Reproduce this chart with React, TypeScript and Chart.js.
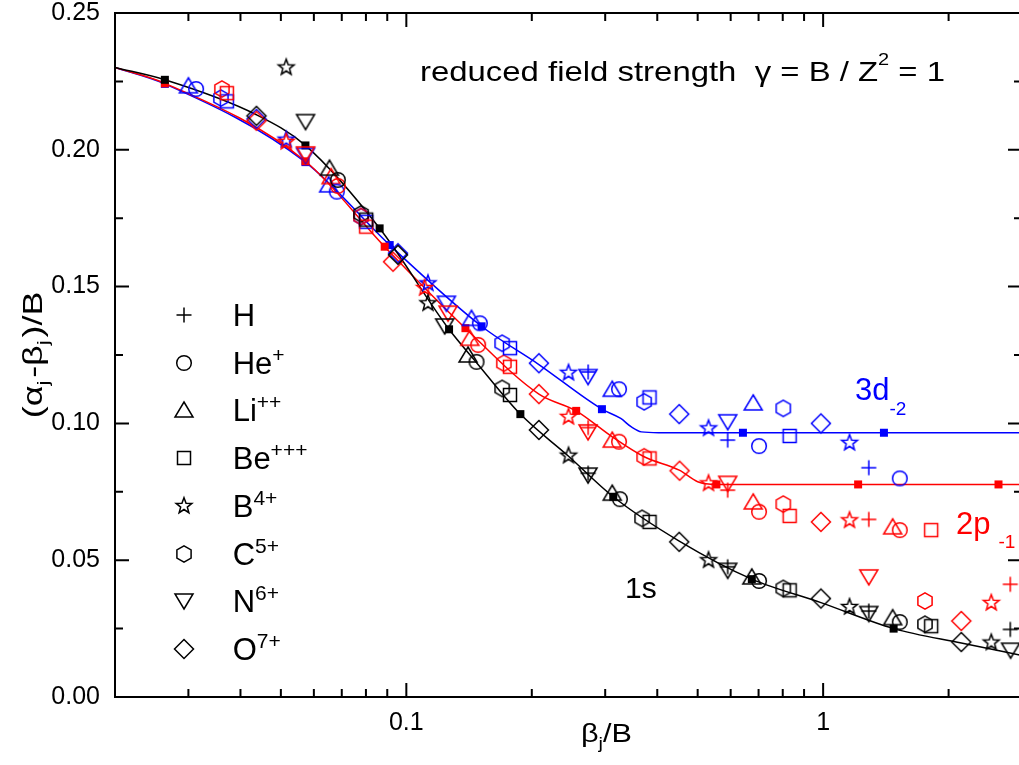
import React, { useEffect, useRef } from 'react';
import { Chart, registerables } from 'chart.js';
Chart.register(...registerables);

type Pt = [number, number];

// ---- axis ticks ----
const Y_MAJOR = [0, 0.05, 0.1, 0.15, 0.2, 0.25];
const Y_MINOR = [0.025, 0.075, 0.125, 0.175, 0.225];
const X_MAJOR = [0.1, 1];
const X_MINOR = [0.03, 0.04, 0.05, 0.06, 0.07, 0.08, 0.09, 0.2, 0.3, 0.4, 0.5, 0.6, 0.7, 0.8, 0.9, 2];

// ---- data: [beta_j/B, (alpha_j-beta_j)/B]; K = 1s (black), R = 2p-1 (red), B = 3d-2 (blue) ----
const H_K: Pt[] = [[0.273, 0.0818], [0.590, 0.0476], [1.287, 0.0314], [2.812, 0.0247]];
const H_R: Pt[] = [[0.273, 0.0985], [0.590, 0.0756], [1.287, 0.0649], [2.812, 0.0412]];
const H_B: Pt[] = [[0.273, 0.1188], [0.590, 0.0939], [1.287, 0.0838]];

const HE_K: Pt[] = [[0.0685, 0.189], [0.1474, 0.1225], [0.3254, 0.0723], [0.7017, 0.0424], [1.527, 0.0274]];
const HE_R: Pt[] = [[0.0685, 0.1868], [0.1487, 0.1287], [0.3238, 0.0933], [0.7017, 0.0677], [1.527, 0.061]];
const HE_B: Pt[] = [[0.0313, 0.2222], [0.0681, 0.1847], [0.1501, 0.1366], [0.3238, 0.1125], [0.7017, 0.0917], [1.527, 0.0799]];

const LI_K: Pt[] = [[0.0654, 0.1933], [0.1406, 0.125], [0.3119, 0.0745], [0.6743, 0.0439], [1.468, 0.029]];
const LI_R: Pt[] = [[0.066, 0.1902], [0.142, 0.1311], [0.3119, 0.0939], [0.6796, 0.0713], [1.468, 0.0622]];
const LI_B: Pt[] = [[0.03, 0.2234], [0.0651, 0.1872], [0.1433, 0.1384], [0.3119, 0.1125], [0.6796, 0.1075]];

const BE_K: Pt[] = [[0.0801, 0.1745], [0.1773, 0.1104], [0.3832, 0.064], [0.8311, 0.039], [1.816, 0.0259]];
const BE_R: Pt[] = [[0.0371, 0.2207], [0.0801, 0.1719], [0.1773, 0.1207], [0.3832, 0.0872], [0.8311, 0.0662], [1.816, 0.061]];
const BE_B: Pt[] = [[0.0371, 0.2177], [0.0801, 0.1737], [0.1773, 0.1275], [0.3832, 0.1095], [0.8311, 0.0954]];

const B_K: Pt[] = [[0.0515, 0.2301], [0.1127, 0.1439], [0.245, 0.0882], [0.5309, 0.05], [1.157, 0.0329], [2.532, 0.0199]];
const B_R: Pt[] = [[0.0515, 0.2029], [0.1106, 0.1495], [0.245, 0.1024], [0.5309, 0.0781], [1.157, 0.0646], [2.532, 0.0344]];
const B_B: Pt[] = [[0.0515, 0.2037], [0.1127, 0.1512], [0.245, 0.1185], [0.5309, 0.0982], [1.157, 0.0929]];

const C_K: Pt[] = [[0.0779, 0.1766], [0.1698, 0.1128], [0.3678, 0.0653], [0.8023, 0.0397], [1.755, 0.0266]];
const C_R: Pt[] = [[0.0361, 0.2222], [0.0779, 0.1756], [0.1714, 0.122], [0.3721, 0.0878], [0.8023, 0.0705], [1.755, 0.0351]];
const C_B: Pt[] = [[0.0359, 0.2189], [0.0779, 0.1756], [0.1698, 0.1293], [0.3721, 0.1079], [0.8023, 0.1055]];

const N_K: Pt[] = [[0.0573, 0.2103], [0.1236, 0.1356], [0.2729, 0.0811], [0.5904, 0.0463], [1.287, 0.0305], [2.817, 0.0171]];
const N_R: Pt[] = [[0.0573, 0.1985], [0.1259, 0.1403], [0.2729, 0.0969], [0.5904, 0.0781], [1.287, 0.0439]];
const N_B: Pt[] = [[0.0573, 0.198], [0.1248, 0.1439], [0.2729, 0.1171], [0.5904, 0.1006]];

const O_K: Pt[] = [[0.0437, 0.2124], [0.0955, 0.1616], [0.208, 0.0976], [0.4516, 0.0567], [0.9879, 0.036], [2.145, 0.0201]];
const O_R: Pt[] = [[0.0437, 0.2106], [0.0929, 0.1591], [0.208, 0.1107], [0.4525, 0.0827], [0.9879, 0.064], [2.145, 0.0278]];
const O_B: Pt[] = [[0.0437, 0.2113], [0.0955, 0.1622], [0.208, 0.122], [0.4516, 0.1034], [0.9879, 0.1]];

// filled squares on the fitted curves
const NODE_K: Pt[] = [[0.02634, 0.2256], [0.05726, 0.2016], [0.08627, 0.1713], [0.1266, 0.1344], [0.1877, 0.1034], [0.3136, 0.0732], [0.6743, 0.0431], [1.476, 0.025]];
const NODE_R: Pt[] = [[0.02634, 0.2243], [0.05726, 0.1958], [0.0887, 0.1646], [0.1386, 0.1348], [0.2555, 0.1046], [0.5546, 0.0777], [1.213, 0.0777], [2.634, 0.0777]];
const NODE_B: Pt[] = [[0.02634, 0.2241], [0.05726, 0.1955], [0.0912, 0.1652], [0.1515, 0.1355], [0.2946, 0.1052], [0.6419, 0.0966], [1.399, 0.0966]];

// fitted curves
const CURVE_K: Pt[] = [[0.02, 0.2301], [0.02634, 0.2256], [0.0437, 0.2128], [0.05726, 0.2016], [0.08627, 0.1713], [0.1266, 0.1344], [0.1474, 0.1222], [0.1877, 0.1034], [0.245, 0.088], [0.3136, 0.0732], [0.4516, 0.057], [0.6743, 0.0431], [0.9879, 0.0345], [1.476, 0.025], [2.145, 0.0197], [3.0, 0.0152]];
const CURVE_R: Pt[] = [[0.02, 0.2301], [0.02634, 0.2243], [0.05726, 0.1958], [0.0887, 0.1646], [0.1386, 0.1348], [0.208, 0.1107], [0.2555, 0.1046], [0.3119, 0.0951], [0.3721, 0.0878], [0.4516, 0.0829], [0.5, 0.0787], [0.5546, 0.0777], [1.213, 0.0777], [2.634, 0.0777], [3.0, 0.0777]];
const CURVE_B: Pt[] = [[0.02, 0.2301], [0.02634, 0.2241], [0.05726, 0.1955], [0.0912, 0.1652], [0.1515, 0.1355], [0.208, 0.1215], [0.2946, 0.1052], [0.3269, 0.1018], [0.346, 0.0988], [0.3664, 0.0969], [0.403, 0.0966], [0.6419, 0.0966], [1.399, 0.0966], [3.0, 0.0966]];

const SPECIES = [
  { name: 'H', sup: '', shape: 'plus', k: H_K, r: H_R, b: H_B },
  { name: 'He', sup: '+', shape: 'circle', k: HE_K, r: HE_R, b: HE_B },
  { name: 'Li', sup: '++', shape: 'tri', k: LI_K, r: LI_R, b: LI_B },
  { name: 'Be', sup: '+++', shape: 'square', k: BE_K, r: BE_R, b: BE_B },
  { name: 'B', sup: '4+', shape: 'star', k: B_K, r: B_R, b: B_B },
  { name: 'C', sup: '5+', shape: 'hex', k: C_K, r: C_R, b: C_B },
  { name: 'N', sup: '6+', shape: 'itri', k: N_K, r: N_R, b: N_B },
  { name: 'O', sup: '7+', shape: 'diamond', k: O_K, r: O_R, b: O_B },
];

const FONT = "'Liberation Sans', Arial, Helvetica, sans-serif";
const COLORS: Record<string, string> = { k: '#000000', r: '#ff0000', b: '#0000ff' };

function makeMarker(shape: string, color: string): HTMLCanvasElement {
  const c = document.createElement('canvas');
  c.width = 26;
  c.height = 26;
  const g = c.getContext('2d') as CanvasRenderingContext2D;
  g.translate(13, 13);
  g.strokeStyle = color;
  g.fillStyle = color;
  g.lineWidth = 1.5;
  g.beginPath();
  if (shape === 'plus') {
    g.moveTo(-7.5, 0); g.lineTo(7.5, 0); g.moveTo(0, -7.5); g.lineTo(0, 7.5); g.stroke();
  } else if (shape === 'circle') {
    g.arc(0, 0, 7.3, 0, Math.PI * 2); g.stroke();
  } else if (shape === 'tri') {
    g.moveTo(0, -8); g.lineTo(9, 7); g.lineTo(-9, 7); g.closePath(); g.stroke();
  } else if (shape === 'itri') {
    g.moveTo(0, 8); g.lineTo(9, -7); g.lineTo(-9, -7); g.closePath(); g.stroke();
  } else if (shape === 'square') {
    g.rect(-6.5, -6.5, 13, 13); g.stroke();
  } else if (shape === 'star') {
    for (let i = 0; i < 10; i++) {
      const rr = i % 2 ? 3.5 : 8.3;
      const a = -Math.PI / 2 + (i * Math.PI) / 5;
      const px = rr * Math.cos(a), py = rr * Math.sin(a);
      if (i === 0) g.moveTo(px, py); else g.lineTo(px, py);
    }
    g.closePath(); g.stroke();
  } else if (shape === 'hex') {
    for (let i = 0; i < 6; i++) {
      const a = -Math.PI / 2 + (i * Math.PI) / 3;
      const px = 8.2 * Math.cos(a), py = 8.2 * Math.sin(a);
      if (i === 0) g.moveTo(px, py); else g.lineTo(px, py);
    }
    g.closePath(); g.stroke();
  } else if (shape === 'diamond') {
    g.moveTo(0, -9.5); g.lineTo(9.5, 0); g.lineTo(0, 9.5); g.lineTo(-9.5, 0); g.closePath(); g.stroke();
  } else if (shape === 'fsq') {
    g.fillRect(-4, -4, 8, 8);
  }
  return c;
}

type Seg = { t: string; size: number; dy?: number; pad?: number };

function drawRich(ctx: CanvasRenderingContext2D, segs: Seg[], x: number, y: number, color: string, opts: { fit?: number; rot?: number } = {}) {
  ctx.save();
  ctx.fillStyle = color;
  ctx.textBaseline = 'alphabetic';
  ctx.textAlign = 'left';
  let total = 0;
  const ws = segs.map((s) => {
    ctx.font = `${s.size}px ${FONT}`;
    const w = ctx.measureText(s.t).width + (s.pad || 0);
    total += w;
    return w;
  });
  const sx = opts.fit ? opts.fit / total : 1;
  ctx.translate(x, y);
  if (opts.rot) ctx.rotate(opts.rot);
  ctx.scale(sx, 1);
  let cx = 0;
  segs.forEach((s, i) => {
    ctx.font = `${s.size}px ${FONT}`;
    ctx.fillText(s.t, cx, s.dy || 0);
    cx += ws[i];
  });
  ctx.restore();
}

export default function App() {
  const ref = useRef<HTMLCanvasElement>(null);

  useEffect(() => {
    const canvas = ref.current;
    if (!canvas) return;
    const shapes = ['plus', 'circle', 'tri', 'itri', 'square', 'star', 'hex', 'diamond', 'fsq'];
    const markers: Record<string, Record<string, HTMLCanvasElement>> = {};
    shapes.forEach((s) => {
      markers[s] = {};
      Object.keys(COLORS).forEach((c) => (markers[s][c] = makeMarker(s, COLORS[c])));
    });

    const toXY = (arr: Pt[]) => arr.map(([x, y]) => ({ x, y }));
    const datasets: any[] = [];
    SPECIES.forEach((sp: any) => {
      ['k', 'r', 'b'].forEach((c) => {
        datasets.push({
          label: sp.name + '-' + c,
          data: toXY(sp[c]),
          pointStyle: markers[sp.shape][c],
          pointRadius: 6,
          showLine: false,
          order: 1,
        });
      });
    });
    const nodes: [Pt[], string][] = [[NODE_K, 'k'], [NODE_R, 'r'], [NODE_B, 'b']];
    nodes.forEach(([arr, c]) => {
      datasets.push({ label: 'node-' + c, data: toXY(arr), pointStyle: markers.fsq[c], pointRadius: 5, showLine: false, order: 2 });
    });
    const curves: [Pt[], string][] = [[CURVE_K, 'k'], [CURVE_R, 'r'], [CURVE_B, 'b']];
    curves.forEach(([arr, c]) => {
      datasets.push({
        label: 'curve-' + c,
        data: toXY(arr),
        showLine: true,
        pointRadius: 0,
        borderColor: COLORS[c],
        borderWidth: 1.5,
        cubicInterpolationMode: 'monotone',
        fill: false,
        order: 3,
      });
    });

    const decor = {
      id: 'decor',
      afterDraw(chart: any) {
        const { ctx, chartArea: a, scales } = chart;
        const xs = scales.x, ys = scales.y;
        ctx.save();
        ctx.strokeStyle = '#000';
        ctx.lineWidth = 2;
        ctx.strokeRect(a.left, a.top, a.right - a.left, a.bottom - a.top);
        ctx.beginPath();
        const yt = (vals: number[], len: number) => vals.forEach((v) => {
          const p = ys.getPixelForValue(v);
          ctx.moveTo(a.left, p); ctx.lineTo(a.left + len, p);
          ctx.moveTo(a.right, p); ctx.lineTo(a.right - len, p);
        });
        const xt = (vals: number[], len: number) => vals.forEach((v) => {
          const p = xs.getPixelForValue(v);
          ctx.moveTo(p, a.bottom); ctx.lineTo(p, a.bottom - len);
          ctx.moveTo(p, a.top); ctx.lineTo(p, a.top + len);
        });
        yt(Y_MAJOR, 14); yt(Y_MINOR, 8); xt(X_MAJOR, 14); xt(X_MINOR, 8);
        ctx.stroke();

        // title
        drawRich(ctx, [
          { t: 'reduced field strength  ', size: 28 },
          { t: 'γ', size: 28 },
          { t: ' = B / Z', size: 28 },
          { t: '2', size: 17, dy: -16 },
          { t: ' = 1', size: 28 },
        ], 420, 81, '#000', { fit: 525 });

        // axis titles
        drawRich(ctx, [
          { t: '(α', size: 27 },
          { t: 'j', size: 17, dy: 7, pad: 2 },
          { t: '-β', size: 27 },
          { t: 'j', size: 17, dy: 7, pad: 2 },
          { t: ')/B', size: 27 },
        ], 41.7, 418.3, '#000', { fit: 126.7, rot: -Math.PI / 2 });
        drawRich(ctx, [
          { t: 'β', size: 26 },
          { t: 'j', size: 17, dy: 7 },
          { t: '/B', size: 26 },
        ], 581, 741.7, '#000', { fit: 51 });

        // curve labels
        drawRich(ctx, [{ t: '1s', size: 30 }], 625, 598, '#000');
        drawRich(ctx, [{ t: '3d', size: 31 }, { t: '-2', size: 19, dy: 15 }], 855, 400, '#0000ff');
        drawRich(ctx, [{ t: '2p', size: 31, pad: 8 }, { t: '-1', size: 19, dy: 14 }], 956, 534, '#ff0000');

        // legend
        SPECIES.forEach((sp, i) => {
          const base = 326 + i * 47.7;
          const m = markers[sp.shape].k;
          ctx.drawImage(m, 184 - 13, Math.round(base - 11) - 13);
          const segs: Seg[] = [{ t: sp.name, size: 31 }];
          if (sp.sup) segs.push({ t: sp.sup, size: 21, dy: -12 });
          drawRich(ctx, segs, 232.7, base, '#000');
        });
        ctx.restore();
      },
    };

    const chart = new Chart(canvas, {
      type: 'scatter',
      data: { datasets },
      options: {
        responsive: false,
        animation: false,
        events: [],
        layout: { padding: { top: 13, right: 8, left: 0, bottom: 0 } },
        plugins: { legend: { display: false }, tooltip: { enabled: false } },
        scales: {
          x: {
            type: 'logarithmic',
            min: 0.02,
            max: 3,
            grid: { display: false, drawTicks: false },
            border: { display: false },
            ticks: {
              autoSkip: false,
              maxRotation: 0,
              padding: 11,
              color: '#000',
              font: { family: FONT, size: 25 },
              callback: (v: any) => {
                const l = Math.log10(Number(v));
                return Math.abs(l - Math.round(l)) < 1e-6 ? String(Number(Number(v).toPrecision(6))) : '';
              },
            },
            afterFit: (s: any) => { s.height = 68; s.paddingLeft = 0; s.paddingRight = 0; },
          },
          y: {
            min: 0,
            max: 0.25,
            grid: { display: false, drawTicks: false },
            border: { display: false },
            ticks: {
              stepSize: 0.05,
              padding: 15,
              color: '#000',
              font: { family: FONT, size: 25 },
              callback: (v: any) => Number(v).toFixed(2),
            },
            afterFit: (s: any) => { s.width = 115; s.paddingTop = 0; s.paddingBottom = 0; },
          },
        },
      } as any,
      plugins: [decor],
    });
    return () => chart.destroy();
  }, []);

  return (
    <div style={{ position: 'fixed', left: 0, top: 0, width: 1019, height: 765, overflow: 'hidden', background: '#fff' }}>
      <canvas ref={ref} width={1030} height={765} style={{ display: 'block' }} />
    </div>
  );
}
